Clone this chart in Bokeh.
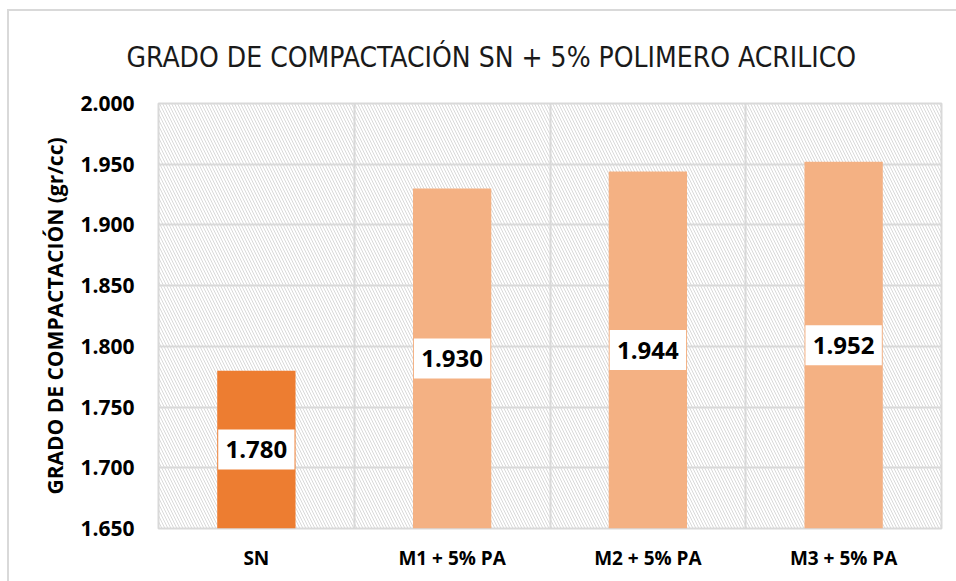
from bokeh.plotting import figure
from bokeh.models import (ColumnDataSource, FixedTicker, NumeralTickFormatter,
                          BoxAnnotation, Range1d)
from bokeh.core.properties import value
from bokeh.embed import file_html
from bokeh.resources import INLINE

title_text = "GRADO DE COMPACTACIÓN SN + 5% POLIMERO ACRILICO"
y_label = "GRADO DE COMPACTACIÓN (gr/cc)"
categories = ["SN", "M1 + 5% PA", "M2 + 5% PA", "M3 + 5% PA"]
values = [1.780, 1.930, 1.944, 1.952]
colors = ["#ED7D31", "#F4B183", "#F4B183", "#F4B183"]
y_min, y_max, y_step = 1.650, 2.000, 0.050

n = len(categories)
xs = [i + 0.5 for i in range(n)]
mids = [(y_min + v) / 2 for v in values]
labels = [f"{v:.3f}" for v in values]
src = ColumnDataSource(dict(x=xs, top=values, mid=mids, color=colors, label=labels))

p = figure(width=947, height=570, output_backend="svg", toolbar_location=None,
           x_range=Range1d(0, n), y_range=Range1d(y_min, y_max),
           min_border_left=149, min_border_right=15, min_border_top=92,
           min_border_bottom=53, frame_width=783, frame_height=425)

p.title.text = title_text
p.title.align = "left"
p.title.offset = -32
p.title.text_font = "DejaVu Sans Condensed"
p.title.text_font_size = "28px"
p.title.text_font_style = "normal"
p.title.text_color = "#1a1a1a"
p.title.standoff = 56
p.title.vertical_align = "top"

p.styles = {"margin-left": "7px", "margin-top": "9px",
            "border-left": "2px solid #d9d9d9", "border-top": "2px solid #d9d9d9"}

# hatched plot background
p.add_layout(BoxAnnotation(fill_alpha=0, line_alpha=0, hatch_pattern="\\",
                           hatch_color="#d9d9d9", hatch_scale=6, hatch_weight=1,
                           level="image"))

p.vbar(x="x", top="top", bottom=y_min, width=0.4, color="color", source=src,
       line_color=None)
p.rect(x="x", y="mid", width=0.39, height=40, height_units="screen",
       fill_color="white", line_color=None, source=src)
p.text(x="x", y="mid", text="label", source=src, text_align="center",
       text_baseline="middle", text_font=value("Open Sans"),
       text_font_style="bold", text_font_size="24px", text_color="#000000")

p.outline_line_color = "#d9d9d9"
p.outline_line_width = 2

p.xgrid.ticker = FixedTicker(ticks=list(range(1, n)))
p.xgrid.grid_line_color = "#d9d9d9"
p.xgrid.grid_line_width = 2
p.ygrid.ticker = FixedTicker(ticks=[round(y_min + i * y_step, 3) for i in range(1, 7)])
p.ygrid.grid_line_color = "#d9d9d9"
p.ygrid.grid_line_width = 2

p.yaxis.ticker = FixedTicker(ticks=[round(y_min + i * y_step, 3) for i in range(8)])
p.yaxis.formatter = NumeralTickFormatter(format="0.000")
p.yaxis.axis_label = y_label
p.yaxis.axis_label_text_font = "Open Sans"
p.yaxis.axis_label_text_font_style = "bold"
p.yaxis.axis_label_text_font_size = "21px"
p.yaxis.axis_label_text_color = "#000000"
p.yaxis.axis_label_standoff = 8
p.yaxis.major_label_text_font = "Open Sans"
p.yaxis.major_label_text_font_style = "bold"
p.yaxis.major_label_text_font_size = "21px"
p.yaxis.major_label_text_color = "#000000"
p.yaxis.major_label_standoff = 24

p.xaxis.ticker = FixedTicker(ticks=xs)
p.xaxis.major_label_overrides = {x: c for x, c in zip(xs, categories)}
p.xaxis.major_label_text_font = "Open Sans"
p.xaxis.major_label_text_font_style = "bold"
p.xaxis.major_label_text_font_size = "19px"
p.xaxis.major_label_text_color = "#000000"
p.xaxis.major_label_standoff = 16

for ax in (p.xaxis, p.yaxis):
    ax.axis_line_color = None
    ax.major_tick_line_color = None
    ax.minor_tick_line_color = None
    ax.major_tick_out = 0
    ax.major_tick_in = 0

open("out.html", "w").write(file_html(p, INLINE))
